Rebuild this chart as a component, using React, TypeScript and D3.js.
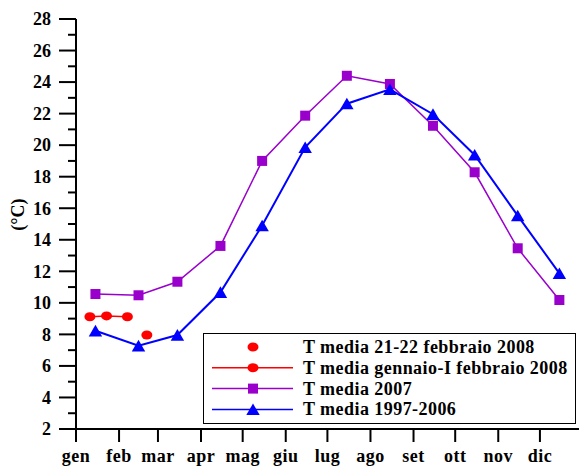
import React, { useEffect, useRef } from 'react';
import * as d3 from 'd3';

const width: number = 579;
const height: number = 467;

// months and the day of year (0-based) where each one starts
const months: string[] = ['gen', 'feb', 'mar', 'apr', 'mag', 'giu', 'lug', 'ago', 'set', 'ott', 'nov', 'dic'];
const monthStartDays: number[] = [0, 31, 59, 90, 120, 151, 181, 212, 243, 273, 304, 334];

// monthly means, plotted on the 15th of each month
const tMedia2007: number[] = [10.56, 10.48, 11.34, 13.61, 19.0, 21.87, 24.4, 23.88, 21.23, 18.28, 13.46, 10.18];
const tMedia19972006: number[] = [8.23, 7.28, 7.96, 10.67, 14.9, 19.86, 22.63, 23.54, 21.96, 19.38, 15.53, 11.87];

// 2008 values (day of year / temperature)
const genFebDays: number[] = [10, 22, 37];
const genFebT: number[] = [9.12, 9.17, 9.12];
const febDays: number[] = [51];
const febT: number[] = [7.96];

const yTicks: number[] = d3.range(2, 29, 2);
const yMinorTicks: number[] = d3.range(3, 28, 2);

const font = '"Liberation Serif", "Times New Roman", serif';
const purple = '#9900cc';
const blue = '#0000ff';
const red = '#ff0000';

const App = () => {
  const ref = useRef<SVGSVGElement>(null);

  useEffect(() => {
    var svg: any = d3.select(ref.current);
    svg.selectAll('*').remove();

    var xScale: any = d3.scaleLinear().domain([0, 365]).range([76, 76 + 365 * 1.389]);
    var yScale: any = d3.scaleLinear().domain([2, 28]).range([429, 19]);

    const midDays = monthStartDays.map((d) => d + 14);

    // y axis
    var yAxis: any = svg.append('g');
    yAxis.append('line')
      .attr('x1', 76).attr('x2', 76)
      .attr('y1', yScale(28)).attr('y2', yScale(2))
      .attr('stroke', '#000').attr('stroke-width', 2);
    yAxis.selectAll('.major').data(yTicks).enter().append('line')
      .attr('x1', 59).attr('x2', 76)
      .attr('y1', (d: number) => yScale(d)).attr('y2', (d: number) => yScale(d))
      .attr('stroke', '#000').attr('stroke-width', 2);
    yAxis.selectAll('.minor').data(yMinorTicks).enter().append('line')
      .attr('x1', 68).attr('x2', 76)
      .attr('y1', (d: number) => yScale(d)).attr('y2', (d: number) => yScale(d))
      .attr('stroke', '#000').attr('stroke-width', 2);
    yAxis.selectAll('text').data(yTicks).enter().append('text')
      .attr('x', 51).attr('y', (d: number) => yScale(d))
      .attr('dy', '0.35em')
      .attr('text-anchor', 'end')
      .style('font-family', font).style('font-weight', 'bold').style('font-size', '18px')
      .text((d: number) => d);

    svg.append('text')
      .attr('transform', `translate(24,${yScale(15.6)}) rotate(-90)`)
      .attr('text-anchor', 'middle')
      .style('font-family', font).style('font-weight', 'bold').style('font-size', '18px')
      .text('(°C)');

    // x axis
    var xAxis: any = svg.append('g');
    xAxis.append('line')
      .attr('x1', 75).attr('x2', width)
      .attr('y1', 429).attr('y2', 429)
      .attr('stroke', '#000').attr('stroke-width', 2);
    xAxis.selectAll('.tick').data(monthStartDays).enter().append('line')
      .attr('x1', (d: number) => xScale(d)).attr('x2', (d: number) => xScale(d))
      .attr('y1', 429).attr('y2', 442)
      .attr('stroke', '#000').attr('stroke-width', 2);
    xAxis.selectAll('text').data(months).enter().append('text')
      .attr('x', (d: string, i: number) => xScale(monthStartDays[i]))
      .attr('y', 462)
      .attr('text-anchor', 'middle')
      .style('font-family', font).style('font-weight', 'bold').style('font-size', '18px')
      .style('letter-spacing', '0.5px')
      .text((d: string) => d);

    var line: any = d3.line()
      .x((d: any) => xScale(d[0]))
      .y((d: any) => yScale(d[1]));

    const drawSquares = (sel: any, pts: number[][], color: string) => {
      sel.selectAll(null).data(pts).enter().append('rect')
        .attr('x', (d: any) => xScale(d[0]) - 5)
        .attr('y', (d: any) => yScale(d[1]) - 5)
        .attr('width', 10).attr('height', 10)
        .attr('fill', color);
    };
    // shift the triangle so its bounding box (not its centroid) sits on the point
    const triangle: any = d3.symbol().type(d3.symbolTriangle).size(78);
    const drawTriangles = (sel: any, pts: number[][], color: string) => {
      sel.selectAll(null).data(pts).enter().append('path')
        .attr('d', triangle)
        .attr('transform', (d: any) => `translate(${xScale(d[0])},${yScale(d[1]) + 1.8})`)
        .attr('fill', color);
    };
    const drawDots = (sel: any, pts: number[][], color: string) => {
      sel.selectAll(null).data(pts).enter().append('ellipse')
        .attr('cx', (d: any) => xScale(d[0]))
        .attr('cy', (d: any) => yScale(d[1]))
        .attr('rx', 5.5).attr('ry', 4.5)
        .attr('fill', color);
    };

    // 2007
    const pts2007 = midDays.map((d, i) => [d, tMedia2007[i]]);
    var g2007: any = svg.append('g');
    g2007.append('path').attr('d', line(pts2007))
      .attr('fill', 'none').attr('stroke', purple).attr('stroke-width', 1.5);
    drawSquares(g2007, pts2007, purple);

    // 1997-2006
    const pts9706 = midDays.map((d, i) => [d, tMedia19972006[i]]);
    var g9706: any = svg.append('g');
    g9706.append('path').attr('d', line(pts9706))
      .attr('fill', 'none').attr('stroke', blue).attr('stroke-width', 2);
    drawTriangles(g9706, pts9706, blue);

    // gennaio - I febbraio 2008
    const ptsGenFeb = genFebDays.map((d, i) => [d, genFebT[i]]);
    var gGenFeb: any = svg.append('g');
    gGenFeb.append('path').attr('d', line(ptsGenFeb))
      .attr('fill', 'none').attr('stroke', red).attr('stroke-width', 1.5);
    drawDots(gGenFeb, ptsGenFeb, red);

    // 21-22 febbraio 2008
    const ptsFeb = febDays.map((d, i) => [d, febT[i]]);
    drawDots(svg.append('g'), ptsFeb, red);

    // legend
    var legend: any = svg.append('g');
    legend.append('rect')
      .attr('x', 203.5).attr('y', 333.5)
      .attr('width', 372).attr('height', 90)
      .attr('fill', '#fff').attr('stroke', '#000').attr('stroke-width', 1);

    const items = [
      { label: 'T media 21-22 febbraio 2008', color: red, marker: 'dot', line: false },
      { label: 'T media gennaio-I febbraio 2008', color: red, marker: 'dot', line: true },
      { label: 'T media 2007', color: purple, marker: 'square', line: true },
      { label: 'T media 1997-2006', color: blue, marker: 'triangle', line: true },
    ];
    items.forEach((item, i) => {
      const cy = 347 + i * 20.8;
      var row: any = legend.append('g');
      if (item.line) {
        row.append('line')
          .attr('x1', 212).attr('x2', 293).attr('y1', cy).attr('y2', cy)
          .attr('stroke', item.color).attr('stroke-width', 1.5);
      }
      if (item.marker === 'dot') {
        row.append('ellipse').attr('cx', 253).attr('cy', cy).attr('rx', 5.5).attr('ry', 4.5).attr('fill', item.color);
      } else if (item.marker === 'square') {
        row.append('rect').attr('x', 248).attr('y', cy - 5).attr('width', 10).attr('height', 10).attr('fill', item.color);
      } else {
        row.append('path').attr('d', triangle)
          .attr('transform', `translate(253,${cy + 1.8})`).attr('fill', item.color);
      }
      row.append('text')
        .attr('x', 303).attr('y', cy + 6)
        .style('font-family', font).style('font-weight', 'bold').style('font-size', '18px')
        .style('letter-spacing', '0.45px')
        .text(item.label);
    });
  }, []);

  return (
    <svg
      ref={ref}
      width={width}
      height={height}
      style={{ position: 'absolute', left: 0, top: 0, background: '#fff', display: 'block' }}
    />
  );
};

export default App;
